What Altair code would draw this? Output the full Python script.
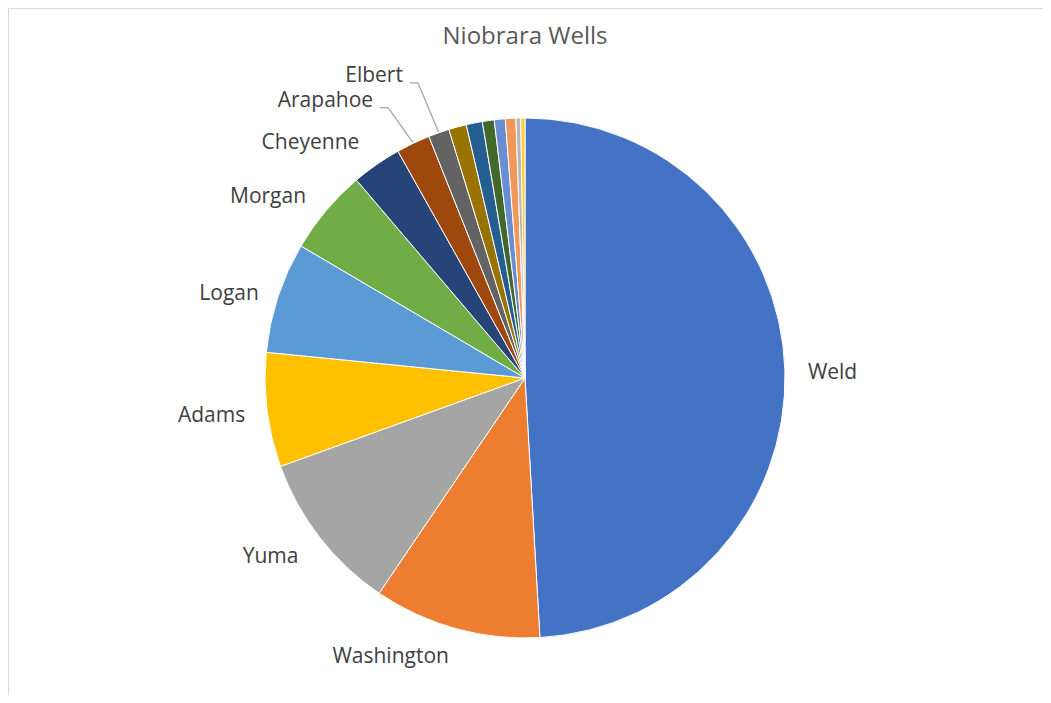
import altair as alt
import pandas as pd

counties = ["Weld", "Washington", "Yuma", "Adams", "Logan", "Morgan", "Cheyenne",
            "Arapahoe", "Elbert", "Larimer", "Boulder", "Kit Carson", "Lincoln",
            "Sedgwick", "Phillips", "Broomfield"]
shares = [49.1, 10.4, 10.0, 7.1, 6.9, 5.3, 3.1, 2.1, 1.3, 1.1, 1.0, 0.74, 0.68, 0.65, 0.30, 0.26]
colors = ["#4472C4", "#ED7D31", "#A5A5A5", "#FFC000", "#5B9BD5", "#70AD47",
          "#264478", "#9E480E", "#636363", "#997300", "#255E91", "#43682B",
          "#698ED0", "#F1975A", "#B7B7B7", "#FFCD33"]
labeled = ["Weld", "Washington", "Yuma", "Adams", "Logan", "Morgan", "Cheyenne",
           "Arapahoe", "Elbert"]
leader = ["Arapahoe", "Elbert"]
title = "Niobrara Wells"

df = pd.DataFrame({"county": counties, "value": shares, "idx": list(range(len(counties)))})

CX, CY, R = 517, 370, 260
FONT = "Open Sans"

# label distance from the centre (px) and small angular shift (rad), by county
label_r = {"Weld": 283, "Washington": 286, "Yuma": 287, "Adams": 282, "Logan": 280,
           "Morgan": 286, "Cheyenne": 290, "Arapahoe": 303, "Elbert": 314}
label_shift = {"Arapahoe": -0.024, "Elbert": -0.01}
lr_expr = " : ".join(f"datum.county == '{k}' ? {v}" for k, v in label_r.items()) + " : 285"
sh_expr = " : ".join(f"datum.county == '{k}' ? {v}" for k, v in label_shift.items()) + " : 0"

base = alt.Chart(df).transform_joinaggregate(
    total="sum(value)"
).transform_window(
    cum="sum(value)", sort=[alt.SortField("idx")], frame=[None, 0]
).transform_calculate(
    mid="(datum.cum - datum.value/2) / datum.total * 2 * PI",
    is_leader="indexof(%s, datum.county) >= 0" % str(leader),
    lr=lr_expr,
    sh=sh_expr,
).transform_calculate(
    lx=f"{CX} + datum.lr * sin(datum.mid + datum.sh)",
    ly=f"{CY} - datum.lr * cos(datum.mid + datum.sh)",
    ex=f"{CX} + {R + 1} * sin(datum.mid)",
    ey=f"{CY} - {R + 1} * cos(datum.mid)",
)

arcs = alt.Chart(df).mark_arc(outerRadius=R, stroke="white", strokeWidth=1).encode(
    theta=alt.Theta("value:Q", stack=True),
    order=alt.Order("idx:Q", sort="ascending"),
    color=alt.Color("county:N", scale=alt.Scale(domain=counties, range=colors), legend=None),
    x=alt.value(CX),
    y=alt.value(CY),
)

lab = base.transform_filter(
    alt.FieldOneOfPredicate(field="county", oneOf=labeled)
).transform_calculate(
    tx="datum.is_leader ? datum.lx - 15 : datum.lx",
    ty="datum.is_leader ? datum.ly - 1 : datum.ly + 3",
)

enc = dict(x=alt.X("tx:Q", scale=None, axis=None), y=alt.Y("ty:Q", scale=None, axis=None),
           text="county:N")

right_labels = lab.transform_filter("datum.mid < PI").mark_text(
    align="left", baseline="middle", font=FONT, fontSize=21, color="#404040"
).encode(**enc)

left_labels = lab.transform_filter("datum.mid >= PI && !datum.is_leader").mark_text(
    align="right", baseline="middle", font=FONT, fontSize=21, color="#404040"
).encode(**enc)

leader_labels = lab.transform_filter("datum.is_leader").mark_text(
    align="right", baseline="alphabetic", font=FONT, fontSize=21, color="#404040"
).encode(**enc)

lines = base.transform_filter(
    alt.FieldOneOfPredicate(field="county", oneOf=leader)
)
diag = lines.mark_rule(color="#A6A6A6", strokeWidth=1.3).encode(
    x=alt.X("ex:Q", scale=None, axis=None), y=alt.Y("ey:Q", scale=None, axis=None),
    x2="lx:Q", y2="ly:Q",
)
horiz = lines.transform_calculate(hx="datum.lx - 8").mark_rule(color="#A6A6A6", strokeWidth=1.3).encode(
    x=alt.X("lx:Q", scale=None, axis=None), y=alt.Y("ly:Q", scale=None, axis=None),
    x2="hx:Q", y2="ly:Q",
)

ttl = alt.Chart(pd.DataFrame({"t": [title]})).mark_text(
    font=FONT, fontSize=24, color="#595959", baseline="middle", align="center"
).encode(text="t:N", x=alt.value(CX), y=alt.value(29))

chart = alt.layer(arcs, diag, horiz, right_labels, left_labels, leader_labels, ttl).properties(
    width=1035, height=687, padding=0, autosize=alt.AutoSizeParams(type="none")
).configure_view(stroke="#D9D9D9", strokeWidth=1)

chart.save("out.html", embed_options={"renderer": "svg", "actions": False})
